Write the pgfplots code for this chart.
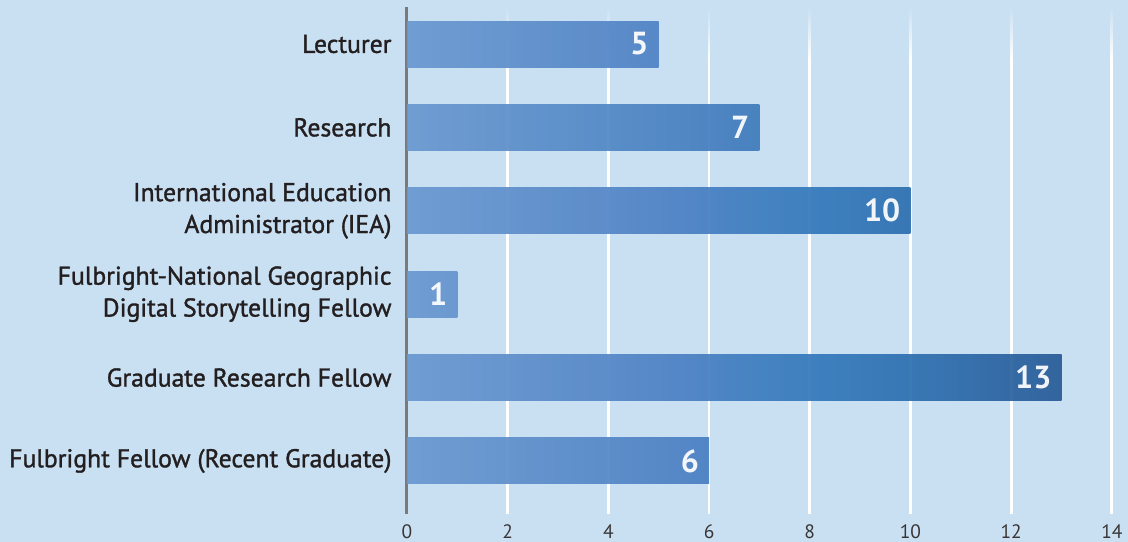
\documentclass[border=0pt]{standalone}
\usepackage{fontspec}
\setmainfont{PT Sans}
\newfontfamily\labfont[FakeBold=1.3]{PT Sans}
\usepackage{pgfplots}
\usetikzlibrary{fadings}
\pgfplotsset{compat=1.18}
\definecolor{bg}{HTML}{C9E0F3}
\definecolor{axgray}{HTML}{7A7A7A}
\definecolor{txt}{HTML}{231F20}
\definecolor{cA}{HTML}{6A98D0}
\definecolor{cB}{HTML}{6494CE}
\definecolor{cC}{HTML}{4F82C4}
\definecolor{cD}{HTML}{4A7FC2}
\definecolor{cE}{HTML}{3F7BBC}
\definecolor{cH}{HTML}{3479BC}
\definecolor{cF}{HTML}{2E70B0}
\definecolor{cG}{HTML}{285B97}
\pgfdeclarehorizontalshading{barTen}{100bp}{color(0bp)=(cA); color(25bp)=(cA); color(50bp)=(cC); color(65bp)=(cH); color(75bp)=(cF); color(100bp)=(cF)}
\pgfdeclarehorizontalshading{barThirteen}{100bp}{color(0bp)=(cA); color(25bp)=(cA); color(44.2bp)=(cC); color(55.8bp)=(cH); color(63.5bp)=(cF); color(75bp)=(cG); color(100bp)=(cG)}
\begin{document}
\begin{tikzpicture}
\useasboundingbox (-407bp,-28bp) rectangle (721bp,514bp);
\fill[bg] (-407bp,-28bp) rectangle (721bp,514bp);
\begin{axis}[
  at={(0,0)}, anchor=south west,
  scale only axis, width=721bp, height=507bp,
  xmin=0, xmax=14.32, ymin=-0.636, ymax=5.444,
  axis y line*=left, axis x line*=bottom,
  x axis line style={draw=none},
  y axis line style={-, draw=axgray, line width=3bp},
  xtick={0,2,...,14}, ytick={0,1,2,3,4,5},
  yticklabels={Fulbright Fellow (Recent Graduate),Graduate Research Fellow,{Fulbright-National Geographic\\Digital Storytelling Fellow},{International Education\hspace{5bp}\\Administrator (IEA)},Research,Lecturer},
  major tick length=0pt, tick style={draw=none},
  xmajorgrids, grid style={white, line width=2.8bp},
  /pgf/number format/assume math mode=true,
  xticklabel style={font=\fontsize{19.5}{22}\selectfont, text=txt!90, yshift=-7bp},
  yticklabel style={font=\labfont\fontsize{25.8}{32}\selectfont, text=txt, align=right, xshift=-12bp},
  xbar, bar width=46bp, bar shift=0pt,
  nodes near coords,
  every node near coord/.append style={anchor=east, text=white, inner sep=0pt, xshift=-10bp, font=\fontsize{32}{32}\selectfont\bfseries},
]
\fill[bg, path fading=south] (axis cs:0.05,5.444) rectangle (axis cs:14.32,4.82);
\addplot[draw=none, fill opacity=0.93, left color=cA, right color=cC] coordinates {(5,5)};
\addplot[draw=none, fill opacity=0.93, left color=cA, right color=cE] coordinates {(7,4)};
\addplot[draw=none, fill opacity=0.93, shading=barTen] coordinates {(10,3)};
\addplot[draw=none, fill opacity=0.93, left color=cA, right color=cB] coordinates {(1,2)};
\addplot[draw=none, fill opacity=0.93, shading=barThirteen] coordinates {(13,1)};
\addplot[draw=none, fill opacity=0.93, left color=cA, right color=cD] coordinates {(6,0)};
\end{axis}
\end{tikzpicture}
\end{document}
